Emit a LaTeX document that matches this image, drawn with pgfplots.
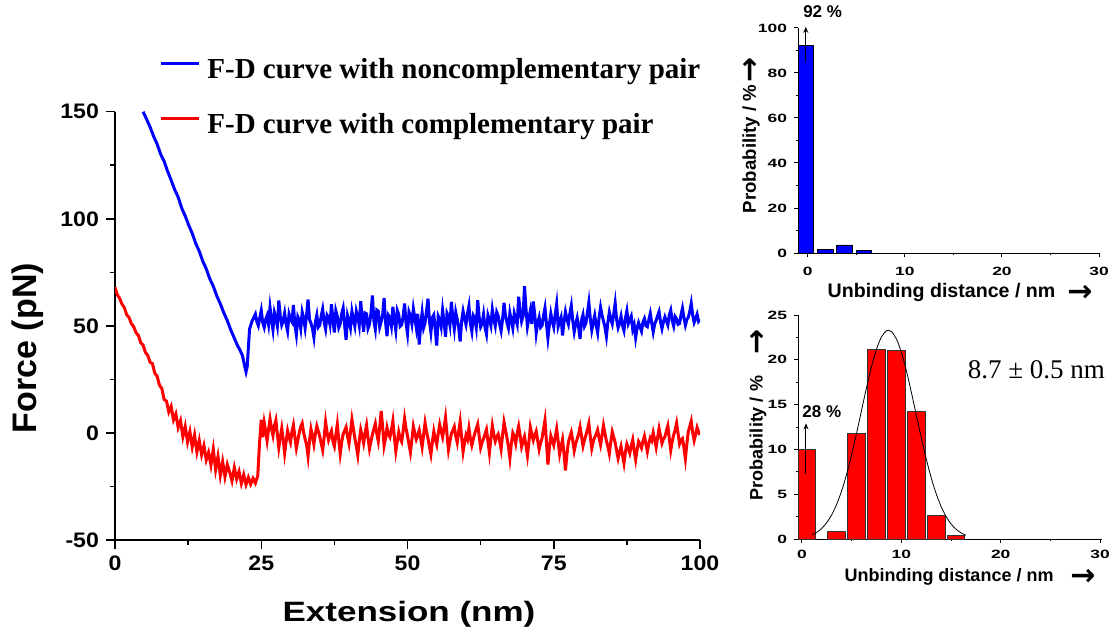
\documentclass[border=0pt]{standalone}
\usepackage{fontspec}
\setmainfont{Liberation Serif}
\setsansfont{Liberation Sans}
\newfontfamily\tickf[FakeStretch=1.1]{Liberation Sans}
\newfontfamily\labf[FakeStretch=1.25]{Liberation Sans}
\newfontfamily\histf[FakeStretch=1.45]{Liberation Sans}
\newfontfamily\arrf{DejaVu Sans}
\usepackage{pgfplots}
\pgfplotsset{compat=1.18}
\usetikzlibrary{arrows.meta}

\begin{document}
\begin{tikzpicture}
\useasboundingbox (0,0) rectangle (555.5pt,316.5pt);

% ---- force-distance curves ----
\begin{axis}[
    at={(57.5pt,46.5pt)}, anchor=south west,
    scale only axis, width=292.5pt, height=214.15pt,
    xmin=0, xmax=100, ymin=-50, ymax=150,
    axis x line=bottom, axis y line=left,
    axis line style={-, line width=0.75pt},
    tick align=outside,
    major tick length=4.5pt, minor tick length=2.5pt,
    tick style={black, line width=0.75pt},
    xtick={0,25,50,75,100}, ytick={-50,0,50,100,150},
    minor x tick num=1, minor y tick num=1,
    /pgf/number format/assume math mode=true,
    tick label style={font=\tickf\bfseries\fontsize{10.5}{12}\selectfont},
    legend style={at={(axis description cs:0.0752,1.1247)}, anchor=north west,
        draw=none, fill=none, inner sep=0pt, row sep=16pt,
        font=\bfseries\fontsize{14.5}{16}\selectfont,
        nodes={inner sep=0pt},
        /tikz/every odd column/.append style={column sep=3.5pt}},
    legend cell align=left,
    legend image code/.code={\draw[#1, line width=1.5pt] (0pt,3.5pt) -- (19pt,3.5pt);},
]
\addplot[blue, line width=1.5pt] coordinates {
(4.8,150) (5.4,146.5) (6.0,142.8) (6.6,138.5) (7.2,134.9) (7.8,130.2) (8.4,126.8)
(9.0,122.1) (9.6,118.0) (10.2,113.6) (10.8,110.1) (11.4,105.0) (12.0,101.3)
(12.6,97.0) (13.2,93.2) (13.8,88.5) (14.4,84.9) (15.0,80.2) (15.6,76.6) (16.2,72.0)
(16.8,68.5) (17.4,64.0) (18.0,60.3) (18.6,56.1) (19.2,52.4) (19.8,48.0) (20.4,44.2)
(21.0,40.5) (21.4,38.5) (21.8,36.0) (22.1,32.0) (22.4,28.5) (22.6,31) (22.8,40)
(23.0,48.5) (23.4,52)
(24.0,55.5) (24.25,52.0) (24.5,50.1) (24.75,53.8) (25.0,57.2) (25.25,51.6) (25.5,49.3) (25.75,52.9)
(26.0,54.8) (26.25,50.7) (26.5,58.6) (26.75,53.0) (27.0,48.2) (27.25,56.1) (27.5,53.5) (27.75,49.9)
(28.0,61.8) (28.25,54.7) (28.5,50.4) (28.75,52.2) (29.0,55.9) (29.25,50.8) (29.5,47.6) (29.75,55.4)
(30.0,53.1) (30.25,51.9) (30.5,59.7) (30.75,50.3) (31.0,45.8) (31.25,54.2) (31.5,52.6) (31.75,48.7)
(32.0,56.4) (32.25,53.5) (32.5,49.0) (32.75,55.1) (33.0,62.3) (33.25,53.0) (33.5,51.2) (33.75,48.9)
(34.0,44.6) (34.25,51.7) (34.5,55.0) (34.75,49.4) (35.0,50.3) (35.25,54.6) (35.5,57.8) (35.75,51.8)
(36.0,48.5) (36.25,55.0) (36.5,53.9) (36.75,50.6) (37.0,60.1) (37.25,52.8) (37.5,46.9) (37.75,57.0)
(38.0,54.4) (38.25,49.2) (38.5,51.0) (38.75,55.7) (39.0,58.3) (39.25,50.5) (39.5,43.5) (39.75,54.8)
(40.0,52.2) (40.25,49.0) (40.5,56.7) (40.75,52.9) (41.0,49.8) (41.25,56.8) (41.5,54.1) (41.75,50.2)
(42.0,61.5) (42.25,53.6) (42.5,47.3) (42.75,56.0) (43.0,55.6) (43.25,48.8) (43.5,50.7) (43.75,55.9)
(44.0,64.2) (44.25,52.3) (44.5,48.4) (44.75,57.4) (45.0,56.9) (45.25,49.5) (45.5,52.0) (45.75,55.1)
(46.0,63.0) (46.25,51.6) (46.5,45.2) (46.75,54.9) (47.0,53.8) (47.25,50.0) (47.5,58.9) (47.75,52.7)
(48.0,47.9) (48.25,57.2) (48.5,55.3) (48.75,49.8) (49.0,50.5) (49.25,54.2) (49.5,60.4) (49.75,51.3)
(50.0,46.4) (50.25,56.5) (50.5,54.6) (50.75,50.9) (51.0,58.0) (51.25,53.7) (51.5,49.1) (51.75,55.6)
(52.0,41.3) (52.25,50.3) (52.5,56.2) (52.75,49.1) (53.0,51.4) (53.25,56.9) (53.5,62.7) (53.75,52.4)
(54.0,47.0) (54.25,53.9) (54.5,55.1) (54.75,48.2) (55.0,40.8) (55.25,54.5) (55.5,52.9) (55.75,49.6)
(56.0,57.4) (56.25,51.8) (56.5,44.9) (56.75,55.9) (57.0,54.3) (57.25,50.4) (57.5,61.2) (57.75,53.7)
(58.0,48.6) (58.25,56.3) (58.5,53.0) (58.75,49.0) (59.0,42.7) (59.25,52.1) (59.5,56.8) (59.75,53.4)
(60.0,50.6) (60.25,55.6) (60.5,59.3) (60.75,51.2) (61.0,47.4) (61.25,54.8) (61.5,53.6) (61.75,49.3)
(62.0,62.0) (62.25,54.1) (62.5,49.5) (62.75,51.0) (63.0,55.4) (63.25,49.2) (63.5,46.1) (63.75,55.0)
(64.0,52.8) (64.25,50.1) (64.5,57.6) (64.75,53.2) (65.0,50.0) (65.25,56.4) (65.5,54.7) (65.75,50.8)
(66.0,47.7) (66.25,53.1) (66.5,60.8) (66.75,54.6) (67.0,51.7) (67.25,49.0) (67.5,56.0) (67.75,52.4)
(68.0,48.9) (68.25,55.8) (68.5,53.3) (68.75,50.7) (69.0,63.6) (69.25,56.9) (69.5,52.1) (69.75,54.5)
(70.0,68.5) (70.25,58.0) (70.5,49.7) (70.75,53.6) (71.0,57.1) (71.25,50.9) (71.5,61.4) (71.75,55.2)
(72.0,46.6) (72.25,51.5) (72.5,54.0) (72.75,49.3) (73.0,50.2) (73.25,54.8) (73.5,58.4) (73.75,51.1)
(74.0,44.3) (74.25,50.6) (74.5,55.7) (74.75,52.0) (75.0,49.4) (75.25,55.3) (75.5,60.2) (75.75,49.7)
(76.0,51.9) (76.25,54.0) (76.5,45.5) (76.75,51.8) (77.0,56.5) (77.25,53.1) (77.5,50.8) (77.75,55.7)
(78.0,59.5) (78.25,52.4) (78.5,47.2) (78.75,50.9) (79.0,53.7) (79.25,49.5) (79.5,43.9) (79.75,52.6)
(80.0,55.2) (80.25,49.8) (80.5,51.3) (80.75,56.1) (81.0,61.0) (81.25,53.3) (81.5,48.0) (81.75,51.6)
(82.0,54.9) (82.25,50.4) (82.5,46.8) (82.75,53.9) (83.0,58.7) (83.25,55.0) (83.5,52.3) (83.75,49.4)
(84.0,45.1) (84.25,51.7) (84.5,56.3) (84.75,53.1) (85.0,50.9) (85.25,55.4) (85.5,60.6) (85.75,52.8)
(86.0,49.2) (86.25,51.4) (86.5,54.5) (86.75,50.2) (87.0,47.8) (87.25,53.6) (87.5,57.0) (87.75,51.0)
(88.0,52.6) (88.25,54.4) (88.5,48.3) (88.75,50.5) (89.0,44.5) (89.25,48.9) (89.5,51.5) (89.75,49.4)
(90.0,47.5) (90.25,51.8) (90.5,53.4) (90.75,50.1) (91.0,49.6) (91.25,52.9) (91.5,55.8) (91.75,51.3)
(92.0,47.1) (92.25,50.8) (92.5,52.5) (92.75,54.7) (93.0,56.6) (93.25,52.0) (93.5,48.7) (93.75,51.9)
(94.0,54.2) (94.25,52.3) (94.5,50.4) (94.75,55.1) (95.0,57.3) (95.25,52.6) (95.5,49.9) (95.75,54.3)
(96.0,53.2) (96.25,50.7) (96.5,51.1) (96.75,55.0) (97.0,58.2) (97.25,53.8) (97.5,50.3) (97.75,52.9)
(98.0,54.0) (98.25,56.7) (98.5,60.5) (98.75,55.0) (99.0,51.6) (99.25,53.4) (99.5,55.4) (99.75,52.1)
(100.0,53.0)
};
\addlegendentry{F-D curve with noncomplementary pair}
\addplot[red, line width=1.5pt] coordinates {
(0.0,68.0) (0.4,64.5) (0.8,62.8) (1.2,60.1) (1.6,58.5) (2.0,55.2) (2.4,53.9) (2.8,51.0)
(3.2,49.6) (3.6,46.8) (4.0,45.5) (4.4,42.1) (4.8,41.0) (5.2,37.6) (5.6,36.2) (6.0,33.0)
(6.4,32.4) (6.8,27.9) (7.2,26.5) (7.6,22.3) (8.0,20.8) (8.4,15.6) (8.8,14.9) (9.2,9.8)
(9.6,12.4) (10.0,6.1) (10.4,8.9) (10.8,2.5) (11.2,5.7) (11.6,-1.8) (12.0,3.0) (12.4,-4.2)
(12.8,0.6) (13.2,-6.5) (13.6,-1.0) (14.0,-8.8) (14.4,-3.5) (14.8,-10.2) (15.2,-5.9)
(15.6,-12.6) (16.0,-9.1) (16.4,-15.0) (16.8,-7.6) (17.2,-17.1) (17.6,-11.0) (18.0,-19.8)
(18.4,-13.4) (18.8,-20.5) (19.2,-14.7) (19.6,-18.3) (20.0,-22.4) (20.4,-16.2) (20.8,-21.5)
(21.2,-18.0) (21.6,-23.6) (22.0,-19.5) (22.4,-24.1) (22.8,-20.8) (23.2,-23.9) (23.6,-21.2)
(24.0,-23.4) (24.4,-20.0) (24.7,-5.0) (25.0,6.2) (25.25,-2.0)
(25.5,4.8) (25.75,0.9) (26.0,-3.6) (26.25,1.7) (26.5,6.5) (26.75,2.0) (27.0,-1.2) (27.25,3.4)
(27.5,5.9) (27.75,-0.5) (28.0,-6.8) (28.25,-2.2) (28.5,2.1) (28.75,-3.0) (29.0,-9.5) (29.25,-4.1)
(29.5,1.0) (29.75,-2.0) (30.0,-4.4) (30.25,0.6) (30.5,3.7) (30.75,-1.9) (31.0,-7.1) (31.25,-3.5)
(31.5,0.2) (31.75,2.9) (32.0,4.5) (32.25,0.1) (32.5,-2.9) (32.75,-5.6) (33.0,-11.0) (33.25,-3.7)
(33.5,1.8) (33.75,-1.5) (34.0,-5.3) (34.25,-0.4) (34.5,3.2) (34.75,0.8) (35.0,-1.6) (35.25,-4.9)
(35.5,-8.0) (35.75,-2.1) (36.0,5.1) (36.25,0.3) (36.5,-3.3) (36.75,-1.0) (37.0,0.9) (37.25,-3.9)
(37.5,-6.2) (37.75,-0.9) (38.0,4.0) (38.25,-3.2) (38.5,-9.7) (38.75,-4.4) (39.0,-0.5) (39.25,1.1)
(39.5,2.7) (39.75,-1.6) (40.0,-5.0) (40.25,0.4) (40.5,6.3) (40.75,1.9) (41.0,-2.4) (41.25,-6.1)
(41.5,-10.4) (41.75,-3.9) (42.0,1.5) (42.25,-1.3) (42.5,-4.7) (42.75,-0.1) (43.0,3.6) (43.25,-2.3)
(43.5,-7.4) (43.75,-4.0) (44.0,-0.8) (44.25,1.8) (44.5,4.3) (44.75,-0.3) (45.0,-3.8) (45.25,2.6)
(45.5,10.2) (45.75,3.0) (46.0,-6.0) (46.25,-2.5) (46.5,2.4) (46.75,-0.6) (47.0,-2.0) (47.25,1.3)
(47.5,5.6) (47.75,-1.8) (48.0,-8.5) (48.25,-3.9) (48.5,0.4) (48.75,-2.7) (49.0,-4.1) (49.25,0.8)
(49.5,6.8) (49.75,2.1) (50.0,-1.4) (50.25,-5.2) (50.5,-9.0) (50.75,-3.1) (51.0,3.0) (51.25,-0.2)
(51.5,-3.0) (51.75,-1.1) (52.0,1.2) (52.25,-2.5) (52.5,-6.6) (52.75,-0.9) (53.0,4.7) (53.25,0.6)
(53.5,-2.6) (53.75,-6.4) (54.0,-10.0) (54.25,-4.2) (54.5,0.7) (54.75,-2.8) (55.0,-5.4) (55.25,-0.4)
(55.5,3.9) (55.75,0.9) (56.0,-1.9) (56.25,2.4) (56.5,7.2) (56.75,-0.7) (57.0,-7.9) (57.25,-4.0)
(57.5,-0.3) (57.75,1.2) (58.0,2.9) (58.25,-1.5) (58.5,-4.5) (58.75,0.7) (59.0,5.3) (59.25,-1.9)
(59.5,-8.8) (59.75,-4.5) (60.0,-1.1) (60.25,-3.0) (60.5,2.2) (60.75,-2.6) (61.0,-5.8) (61.25,-2.9)
(61.5,-0.2) (61.75,1.9) (62.0,4.1) (62.25,-1.3) (62.5,-6.9) (62.75,-4.4) (63.0,-2.7) (63.25,-0.5)
(63.5,1.6) (63.75,-3.8) (64.0,-9.3) (64.25,-2.5) (64.5,3.4) (64.75,-0.8) (65.0,-3.9) (65.25,-1.8)
(65.5,-0.6) (65.75,-3.6) (66.0,-7.5) (66.25,-0.9) (66.5,5.0) (66.75,1.4) (67.0,-2.2) (67.25,-6.3)
(67.5,-11.8) (67.75,-5.0) (68.0,0.0) (68.25,-1.6) (68.5,-4.9) (68.75,-0.2) (69.0,3.1) (69.25,-1.2)
(69.5,-6.4) (69.75,-3.9) (70.0,-1.7) (70.25,-6.0) (70.5,-10.6) (70.75,-4.2) (71.0,2.6) (71.25,-0.7)
(71.5,-3.4) (71.75,-1.0) (72.0,0.8) (72.25,-3.4) (72.5,-7.7) (72.75,-4.6) (73.0,-2.5) (73.25,1.8)
(73.5,6.0) (73.75,-4.1) (74.0,-14.8) (74.25,-7.0) (74.5,-1.3) (74.75,-3.5) (75.0,-5.7) (75.25,-2.0)
(75.5,1.9) (75.75,-3.8) (76.0,-9.9) (76.25,-6.4) (76.5,-3.1) (76.75,-9.5) (77.0,-17.5) (77.25,-10.1)
(77.5,-4.3) (77.75,-1.9) (78.0,0.3) (78.25,-3.6) (78.5,-8.3) (78.75,-5.0) (79.0,-2.8) (79.25,-0.4)
(79.5,2.8) (79.75,-1.7) (80.0,-6.1) (80.25,-3.3) (80.5,-1.0) (80.75,1.5) (81.0,4.4) (81.25,-1.8)
(81.5,-7.2) (81.75,-4.0) (82.0,-2.1) (82.25,-0.6) (82.5,1.4) (82.75,-2.4) (83.0,-5.5) (83.25,-1.1)
(83.5,3.5) (83.75,-0.2) (84.0,-3.7) (84.25,-6.3) (84.5,-9.6) (84.75,-4.2) (85.0,0.5) (85.25,-2.0)
(85.5,-4.6) (85.75,-8.3) (86.0,-11.9) (86.25,-9.0) (86.5,-6.3) (86.75,-10.4) (87.0,-14.2) (87.25,-8.9)
(87.5,-5.2) (87.75,-7.1) (88.0,-9.4) (88.25,-6.0) (88.5,-3.2) (88.75,-8.2) (89.0,-12.5) (89.25,-7.8)
(89.5,-4.0) (89.75,-5.3) (90.0,-7.0) (90.25,-3.9) (90.5,-1.5) (90.75,-5.0) (91.0,-8.7) (91.25,-4.9)
(91.5,-2.3) (91.75,-3.6) (92.0,0.1) (92.25,-3.1) (92.5,-6.7) (92.75,-2.2) (93.0,2.0) (93.25,-1.4)
(93.5,-4.8) (93.75,-2.8) (94.0,-1.8) (94.25,0.9) (94.5,3.3) (94.75,-2.5) (95.0,-8.1) (95.25,-4.0)
(95.5,-0.9) (95.75,1.4) (96.0,4.6) (96.25,-0.3) (96.5,-5.1) (96.75,-3.3) (97.0,-2.6) (97.25,-6.8)
(97.5,-12.0) (97.75,-5.1) (98.0,0.6) (98.25,3.0) (98.5,5.5) (98.75,0.2) (99.0,-3.5) (99.25,-0.6)
(99.5,2.5) (99.75,0.4) (100.0,-1.0)
};
\addlegendentry{F-D curve with complementary pair}
\end{axis}

% ---- histogram, noncomplementary ----
\begin{axis}[
    at={(399pt,190pt)}, anchor=south west,
    scale only axis, width=151pt, height=112.5pt,
    xmin=-1, xmax=30.1, ymin=0, ymax=100,
    axis x line=bottom, axis y line=left,
    axis line style={-, line width=0.5pt},
    tick align=outside,
    major tick length=2pt, minor tick length=1pt,
    tick style={black, line width=0.5pt},
    xtick={0,10,20,30}, ytick={0,20,40,60,80,100},
    minor x tick num=1, minor y tick num=1,
    /pgf/number format/assume math mode=true,
    tick label style={font=\histf\bfseries\fontsize{6}{7}\selectfont},
    xticklabel style={yshift=-1.5pt},
    clip=false,
]
\addplot[ybar, bar width=1.6, bar shift=0pt, fill=blue, draw=black, line width=0.4pt]
    coordinates {(-0.2,92.2) (1.8,1.6) (3.8,3.6) (5.8,1.0)};
\draw[-{Stealth[length=3pt,width=2.5pt]}, line width=0.5pt]
    (axis cs:-0.2,85) -- (axis cs:-0.2,100.5);
\node[anchor=south west, inner sep=0pt, font=\sffamily\bfseries\fontsize{8.5}{9}\selectfont]
    at (axis cs:-0.5,104.5) {92 \%};
\end{axis}

% ---- histogram, complementary ----
\begin{axis}[
    at={(399pt,47pt)}, anchor=south west,
    scale only axis, width=152pt, height=112pt,
    xmin=-0.4, xmax=30.2, ymin=0, ymax=25,
    axis x line=bottom, axis y line=left,
    axis line style={-, line width=0.5pt},
    tick align=outside,
    major tick length=2pt, minor tick length=1pt,
    tick style={black, line width=0.5pt},
    xtick={0,10,20,30}, ytick={0,5,10,15,20,25},
    minor x tick num=1, minor y tick num=1,
    /pgf/number format/assume math mode=true,
    tick label style={font=\histf\bfseries\fontsize{6}{7}\selectfont},
    clip=false,
]
\addplot[ybar, bar width=1.8, bar shift=0pt, fill=red, draw=black!80, line width=0.5pt]
    coordinates {(0.5,10.0) (3.5,0.8) (5.5,11.8) (7.5,21.2) (9.5,21.0) (11.5,14.2) (13.5,2.6) (15.5,0.4)};
\addplot[black, line width=0.4pt, smooth] coordinates {
(1.0,0.46) (1.5,0.76) (2.0,1.20) (2.5,1.84) (3.0,2.72) (3.5,3.90) (4.0,5.41) (4.5,7.26)
(5.0,9.43) (5.5,11.84) (6.0,14.39) (6.5,16.92) (7.0,19.25) (7.5,21.18) (8.0,22.56)
(8.5,23.24) (8.7,23.3) (9.0,23.16) (9.5,22.34) (10.0,20.83) (10.5,18.81) (11.0,16.42)
(11.5,13.87) (12.0,11.34) (12.5,8.97) (13.0,6.86) (13.5,5.08) (14.0,3.64) (14.5,2.52)
(15.0,1.69) (15.5,1.10) (16.0,0.69) (16.5,0.42)
};
\draw[-{Stealth[length=3pt,width=2.5pt]}, line width=0.5pt]
    (axis cs:0.4,7.2) -- (axis cs:0.4,12.9);
\node[anchor=south west, inner sep=0pt, font=\sffamily\bfseries\fontsize{8.5}{9}\selectfont]
    at (axis cs:0,13.5) {28 \%};
\node[font=\fontsize{13.5}{15}\selectfont] at (axis cs:23.6,18.9) {8.7 ± 0.5 nm};
\end{axis}

% ---- axis titles ----
\node[font=\labf\bfseries\fontsize{14}{16}\selectfont] at (204.5pt,9.5pt) {Extension (nm)};
\node[rotate=90, font=\sffamily\bfseries\fontsize{17}{19}\selectfont] at (13.75pt,142.5pt) {Force (pN)};

\node[font=\sffamily\bfseries\fontsize{9.8}{11}\selectfont] at (470.75pt,170.5pt) {Unbinding distance / nm};
\node[font=\arrf\bfseries\fontsize{15}{16}\selectfont] at (540pt,170pt) {→};
\node[rotate=90, font=\sffamily\bfseries\fontsize{9.3}{11}\selectfont] at (375.5pt,242pt) {Probability / \%};
\node[rotate=90, font=\arrf\bfseries\fontsize{15}{16}\selectfont] at (375.5pt,281.5pt) {→};

\node[font=\sffamily\bfseries\fontsize{9}{11}\selectfont] at (474.5pt,28pt) {Unbinding distance / nm};
\node[font=\arrf\bfseries\fontsize{15}{16}\selectfont] at (541.5pt,28pt) {→};
\node[rotate=90, font=\sffamily\bfseries\fontsize{9}{11}\selectfont] at (379pt,97.5pt) {Probability / \%};
\node[rotate=90, font=\arrf\bfseries\fontsize{15}{16}\selectfont] at (379pt,145.5pt) {→};
\end{tikzpicture}
\end{document}
